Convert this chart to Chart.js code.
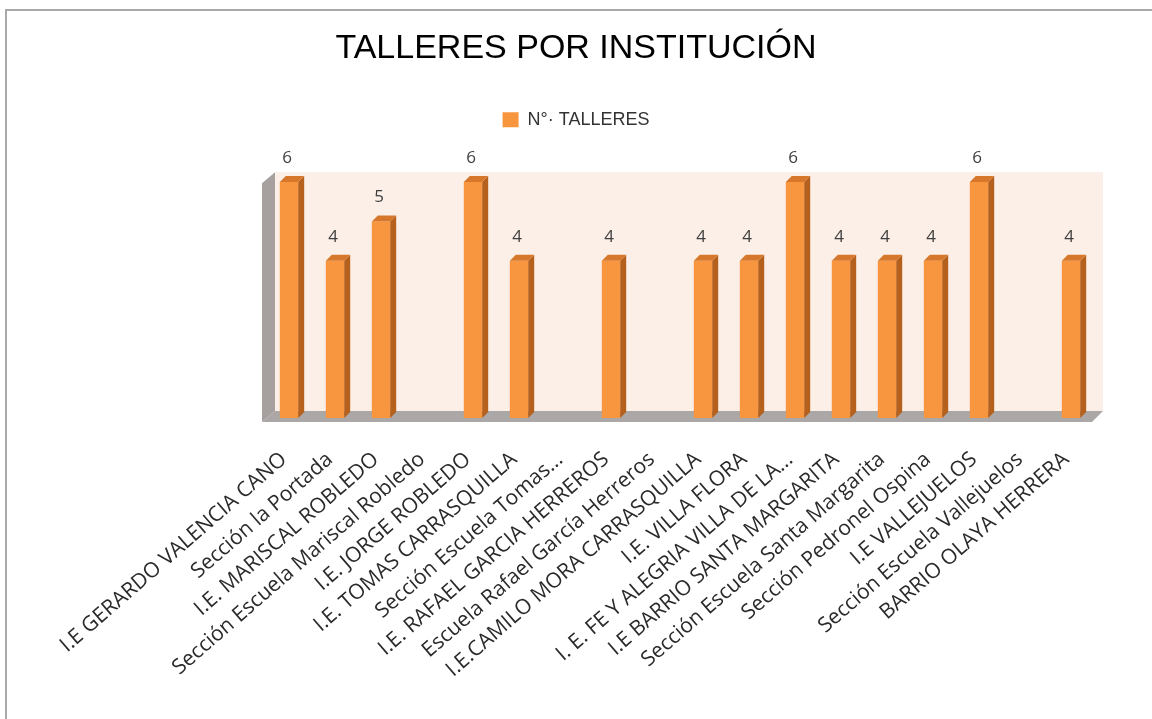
<!DOCTYPE html>
<html>
<head>
<meta charset="utf-8">
<script src="https://cdn.jsdelivr.net/npm/chart.js"></script>
<style>
  body { margin: 0; background: #fff; }
  #wrap { width: 1152px; height: 719px; }
</style>
</head>
<body>
<div id="wrap"><canvas id="talleresChart"></canvas></div>
<script>
// data (blank categories have no bar)
const instituciones = [
  'I.E GERARDO VALENCIA CANO',
  'Sección la Portada',
  'I.E. MARISCAL ROBLEDO',
  'Sección Escuela Mariscal Robledo',
  'I.E. JORGE ROBLEDO',
  'I.E. TOMAS CARRASQUILLA',
  'Sección Escuela Tomas...',
  'I.E. RAFAEL GARCIA HERREROS',
  'Escuela Rafael García Herreros',
  'I.E.CAMILO MORA CARRASQUILLA',
  'I.E. VILLA FLORA',
  'I. E. FE Y ALEGRIA VILLA DE LA...',
  'I.E BARRIO SANTA MARGARITA',
  'Sección Escuela Santa Margarita',
  'Sección Pedronel Ospina',
  'I.E VALLEJUELOS',
  'Sección Escuela Vallejuelos',
  'BARRIO OLAYA HERRERA'
];
const talleres = [6, 4, 5, null, 6, 4, null, 4, null, 4, 4, 6, 4, 4, 4, 6, null, 4];
const serieNombre = 'N°· TALLERES';
const titulo = 'TALLERES POR INSTITUCIÓN';

const naranja = '#f7963f';
const naranjaLado = '#b5601d';
const naranjaTope = '#d7772b';

// fake 3D look: back wall, side wall, floor, bar sides and value labels
const efecto3d = {
  id: 'efecto3d',
  beforeDraw(chart) {
    const ctx = chart.ctx;
    ctx.save();
    ctx.strokeStyle = '#a9a9a9';
    ctx.lineWidth = 2;
    ctx.strokeRect(6, 10, 1200, 800);
    ctx.restore();
  },
  beforeDatasetsDraw(chart) {
    const ctx = chart.ctx;
    const a = chart.chartArea;
    const y = chart.scales.y;
    const top = y.getPixelForValue(6.25);
    const d = 9;
    ctx.save();
    // back wall
    ctx.fillStyle = '#fcefe8';
    ctx.fillRect(a.left + d, top, a.right - a.left, a.bottom - 7 - top);
    // left wall
    ctx.fillStyle = '#a6a09e';
    ctx.beginPath();
    ctx.moveTo(a.left - 4, a.bottom + 4);
    ctx.lineTo(a.left - 4, top + 11);
    ctx.lineTo(a.left + d, top);
    ctx.lineTo(a.left + d, a.bottom - 7);
    ctx.closePath();
    ctx.fill();
    // floor
    ctx.fillStyle = '#aaa7a6';
    ctx.beginPath();
    ctx.moveTo(a.left - 4, a.bottom + 4);
    ctx.lineTo(a.right - 2, a.bottom + 4);
    ctx.lineTo(a.right + d, a.bottom - 7);
    ctx.lineTo(a.left + d, a.bottom - 7);
    ctx.closePath();
    ctx.fill();
    ctx.restore();
  },
  afterDatasetsDraw(chart) {
    const ctx = chart.ctx;
    const meta = chart.getDatasetMeta(0);
    const dx = 6, dy = 6;
    ctx.save();
    meta.data.forEach((bar, i) => {
      if (talleres[i] == null) return;
      const p = bar.getProps(['x', 'y', 'base', 'width'], true);
      const l = p.x - p.width / 2, r = p.x + p.width / 2;
      ctx.fillStyle = naranjaLado;
      ctx.beginPath();
      ctx.moveTo(r, p.y);
      ctx.lineTo(r + dx, p.y - dy);
      ctx.lineTo(r + dx, p.base - dy);
      ctx.lineTo(r, p.base);
      ctx.closePath();
      ctx.fill();
      ctx.fillStyle = naranjaTope;
      ctx.beginPath();
      ctx.moveTo(l, p.y);
      ctx.lineTo(l + dx, p.y - dy);
      ctx.lineTo(r + dx, p.y - dy);
      ctx.lineTo(r, p.y);
      ctx.closePath();
      ctx.fill();
      ctx.fillStyle = '#404040';
      ctx.font = '17px "Open Sans"';
      ctx.textAlign = 'center';
      ctx.textBaseline = 'middle';
      ctx.fillText(String(talleres[i]), p.x - 2, p.y - 24);
    });
    ctx.restore();
  }
};

const ctx = document.getElementById('talleresChart').getContext('2d');

new Chart(ctx, {
  type: 'bar',
  data: {
    labels: instituciones,
    datasets: [{
      label: serieNombre,
      data: talleres,
      backgroundColor: naranja,
      borderWidth: 0,
      barPercentage: 0.4,
      categoryPercentage: 1
    }]
  },
  options: {
    responsive: true,
    maintainAspectRatio: false,
    animation: false,
    layout: { padding: { top: 12, left: 0, right: 0, bottom: 0 } },
    plugins: {
      title: {
        display: true,
        text: titulo,
        color: '#000',
        font: { family: 'Liberation Sans', size: 34, weight: 'normal' },
        padding: { top: 16, bottom: 22 }
      },
      legend: {
        labels: {
          boxWidth: 16,
          boxHeight: 15,
          padding: 20,
          color: '#333',
          font: { family: 'Liberation Sans', size: 18 }
        }
      },
      tooltip: { enabled: false }
    },
    scales: {
      x: {
        grid: { display: false, drawTicks: false },
        border: { display: false },
        ticks: {
          autoSkip: false,
          minRotation: 41,
          maxRotation: 41,
          padding: 29,
          labelOffset: -5,
          color: '#2a2a2a',
          font: { family: 'Open Sans', size: 21 }
        },
        afterFit(scale) {
          scale.paddingLeft = 266;
          scale.paddingRight = 58;
          scale.height = 301;
        }
      },
      y: {
        display: false,
        min: 0,
        max: 7.1
      }
    }
  },
  plugins: [efecto3d]
});
</script>
</body>
</html>
